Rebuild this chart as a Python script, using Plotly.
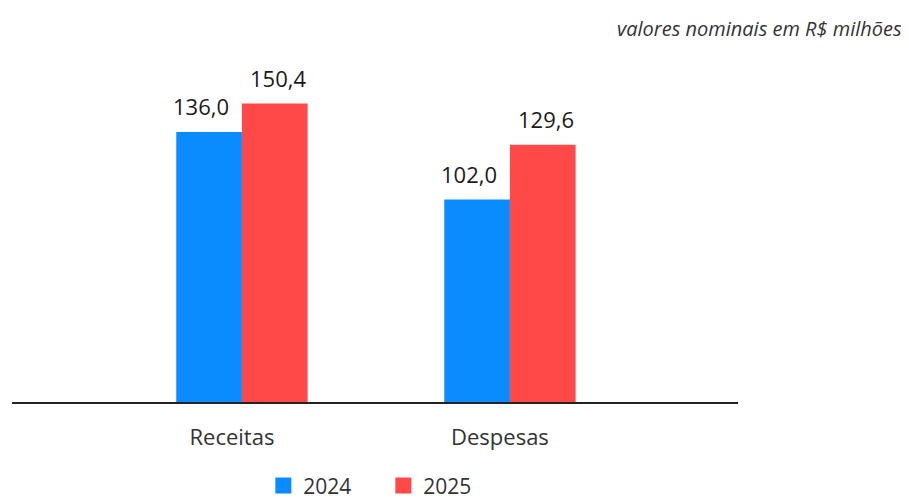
import plotly.graph_objects as go

categories = ["Receitas", "Despesas"]
values_2024 = [136.0, 102.0]
values_2025 = [150.4, 129.6]
series_names = ["2024", "2025"]
note_text = "valores nominais em R$ milhões"

colors = ["#0a8cff", "#ff4848"]
FONT = "Open Sans"
bargap = 0.51
bar_w = (1 - bargap) / 2
label_xshift = [-8, 3]

def fmt(v):
    return f"{v:.1f}".replace(".", ",")

xs = list(range(len(categories)))
series = [values_2024, values_2025]

fig = go.Figure()
for name, vals, col in zip(series_names, series, colors):
    fig.add_trace(go.Bar(x=xs, y=vals, name=name, marker=dict(color=col, line=dict(width=0)),
                         showlegend=False, hoverinfo="skip"))
for name, col in zip(series_names, colors):
    fig.add_trace(go.Scatter(x=[None], y=[None], mode="markers", name=name,
                             marker=dict(symbol="square", size=18, color=col)))

annotations = []
for k, vals in enumerate(series):
    off = (k - 0.5) * bar_w
    for i, v in enumerate(vals):
        annotations.append(dict(x=i + off, y=v, xref="x", yref="y", text=fmt(v),
                                showarrow=False, yanchor="bottom", yshift=9, xshift=label_xshift[k],
                                font=dict(family=FONT, size=22, color="#1a1a1a")))
annotations.append(dict(x=1, y=1, xref="paper", yref="paper", xanchor="right", yanchor="middle",
                        text=f"<i>{note_text}</i>", showarrow=False, xshift=166, yshift=14,
                        font=dict(family=FONT, size=20, color="#333333")))

fig.update_layout(
    width=901, height=491,
    margin=dict(l=4, r=171, t=34, b=97, autoexpand=False),
    paper_bgcolor="white", plot_bgcolor="white",
    barmode="group", bargap=bargap, bargroupgap=0,
    font=dict(family=FONT, color="#333333"),
    annotations=annotations,
    legend=dict(orientation="h", x=0.5115, xanchor="center", y=-0.233, yanchor="middle",
                font=dict(family=FONT, size=21, color="#333333"), itemsizing="trace",
                entrywidth=75),
    xaxis=dict(range=[-0.858, 1.851], tickvals=xs, ticktext=categories,
               showgrid=False, zeroline=False, showline=True, linecolor="#222222", linewidth=1.5,
               ticks="outside", ticklen=15, tickcolor="rgba(0,0,0,0)", ticklabelshift=-10,
               tickfont=dict(family=FONT, size=22, color="#333333"), fixedrange=True),
    yaxis=dict(range=[0, 181.4], visible=False, showgrid=False, zeroline=False, fixedrange=True),
)

fig.write_html("out.html")
